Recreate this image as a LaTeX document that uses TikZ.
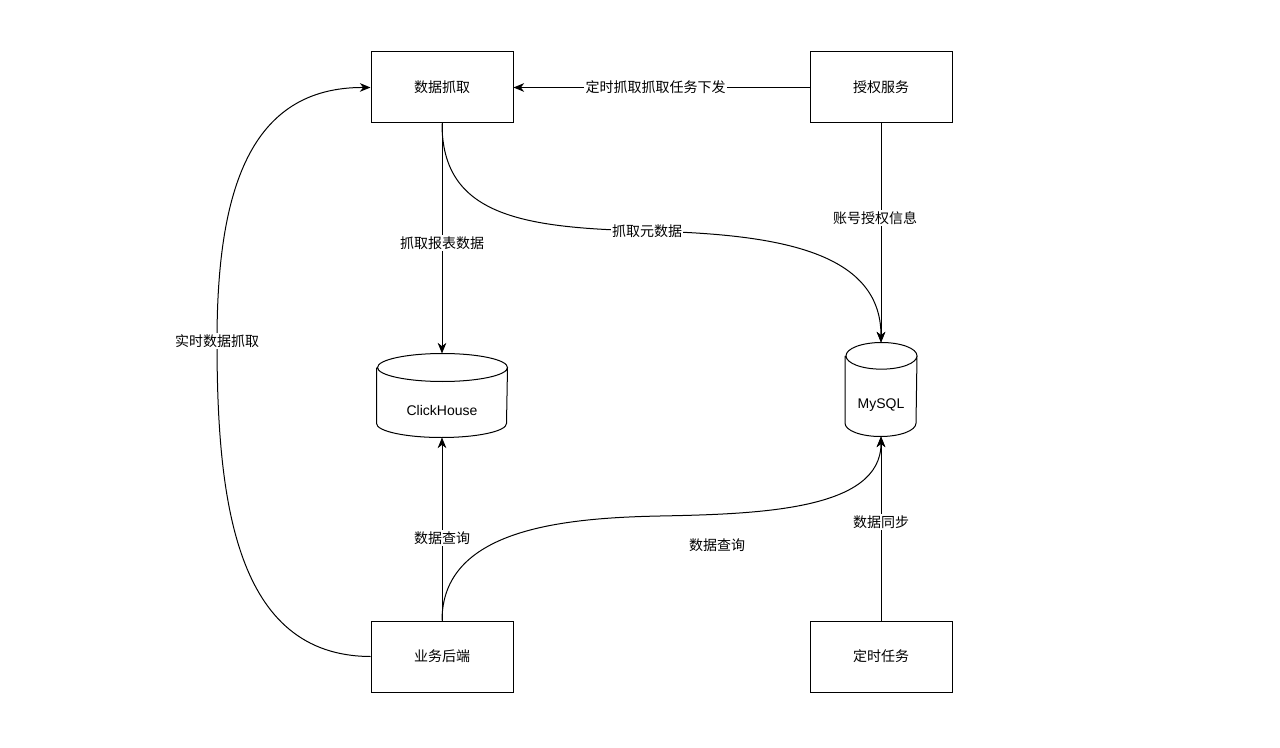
\documentclass[tikz,border=0pt]{standalone}
\usepackage{fontspec}
\setmainfont{Liberation Sans}
\newfontfamily\cjk{Noto Sans CJK SC}
\usetikzlibrary{arrows.meta}

\begin{document}
\begin{tikzpicture}[x=0.75pt,y=-0.75pt,line width=0.75pt,
    >={Stealth[length=8pt,width=6.5pt,inset=2.5pt]},
    box/.style={draw,minimum width=106.5pt,minimum height=53.25pt,inner sep=0pt,
        font=\cjk\fontsize{10.5}{12}\selectfont},
    lbl/.style={fill=white,inner sep=1pt,font=\cjk\fontsize{10.5}{12}\selectfont},
    dbtext/.style={inner sep=0pt,font=\fontsize{10.5}{12}\selectfont}]
    \useasboundingbox (0,0) rectangle (1280,748);

    % boxes
    \node[box] (fetch) at (442,87.5) {数据抓取};
    \node[box] (auth) at (881,87.5) {授权服务};
    \node[box] (biz) at (442,656.5) {业务后端};
    \node[box] (job) at (881,656.5) {定时任务};

    % databases
    \node[minimum width=97.5pt,minimum height=62.25pt,inner sep=0pt] (ch) at (442,395.5) {};
    \draw ([yshift=-10.5pt]ch.north west) -- ([yshift=10.5pt]ch.south west)
        arc[start angle=180,end angle=360,x radius=48.75pt,y radius=10.5pt]
        -- ([yshift=-10.5pt]ch.north east)
        arc[start angle=0,end angle=180,x radius=48.75pt,y radius=10.5pt]
        arc[start angle=180,end angle=360,x radius=48.75pt,y radius=10.5pt];
    \node[dbtext] (chname) at ([yshift=-11.25pt]ch.center) {ClickHouse};

    \node[minimum width=53.25pt,minimum height=69.75pt,inner sep=0pt] (my) at (881,389.5) {};
    \draw ([yshift=-10pt]my.north west) -- ([yshift=10pt]my.south west)
        arc[start angle=180,end angle=360,x radius=26.625pt,y radius=10pt]
        -- ([yshift=-10pt]my.north east)
        arc[start angle=0,end angle=180,x radius=26.625pt,y radius=10pt]
        arc[start angle=180,end angle=360,x radius=26.625pt,y radius=10pt];
    \node[dbtext] (myname) at ([yshift=-11.6pt]my.center) {MySQL};

    % connectors
    \draw[->] (auth) -- node[lbl,pos=0.52] {定时抓取抓取任务下发} (fetch);
    \draw[->] (fetch) -- node[lbl,pos=0.52] {抓取报表数据} (ch);
    \draw[->] (fetch.south) .. controls (442,215) and (520,228) .. (647,231) node[lbl] {抓取元数据}
        .. controls (774,234) and (881,250) .. (my.north);
    \draw[->] (auth) -- node[lbl,pos=0.43,xshift=-4.5pt] {账号授权信息} (my);
    \draw[->] (biz) -- node[lbl,pos=0.45] {数据查询} (ch);
    \draw[->] (biz.north) .. controls (442,530) and (560,518) .. (660,516)
        .. controls (760,514) and (881,510) .. (my.south);
    \node[lbl] (querylbl) at (717,545) {数据查询};
    \draw[->] (job) -- node[lbl,pos=0.535] {数据同步} (my);
    \draw[->] (biz.west) .. controls (235,656) and (217,500) .. (217,341) node[lbl] {实时数据抓取}
        .. controls (217,190) and (250,87) .. (fetch.west);
\end{tikzpicture}
\end{document}
